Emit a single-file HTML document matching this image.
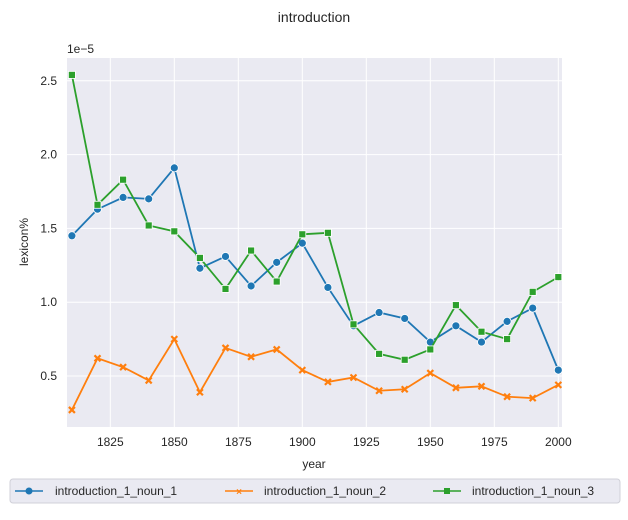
<!DOCTYPE html>
<html><head><meta charset="utf-8"><style>
body{margin:0;background:#fff;width:628px;height:515px;overflow:hidden}
text{font-family:"Liberation Sans",Arial,sans-serif;fill:#262626}
</style></head><body>
<svg id="chart" width="628" height="515" xmlns="http://www.w3.org/2000/svg">
<text x="314" y="22" text-anchor="middle" font-size="14">introduction</text>
<rect x="67" y="58" width="495" height="369" fill="#eaeaf2"/>
<g id="grid"></g><g id="series"></g>
<text x="67" y="53" font-size="12">1e−5</text>
<text x="314" y="468" text-anchor="middle" font-size="12">year</text>
<text transform="translate(28,242) rotate(-90)" text-anchor="middle" font-size="12">lexicon%</text>
<g>
<rect x="10" y="479" width="610" height="24" rx="3" fill="#eaeaf2" stroke="#d0d0d8"/>
<line x1="15" y1="491" x2="43" y2="491" stroke="#1f77b4" stroke-width="1.5"/><circle cx="29" cy="491" r="3.5" fill="#1f77b4"/>
<text x="55" y="495" font-size="12">introduction_1_noun_1</text>
<line x1="225" y1="491" x2="253" y2="491" stroke="#ff7f0e" stroke-width="1.5"/><text x="239" y="495" font-size="10" text-anchor="middle" style="fill:#ff7f0e;font-weight:bold">×</text>
<text x="264" y="495" font-size="12">introduction_1_noun_2</text>
<line x1="433" y1="491" x2="461" y2="491" stroke="#2ca02c" stroke-width="1.5"/><rect x="444" y="488" width="6" height="6" fill="#2ca02c"/>
<text x="472" y="495" font-size="12">introduction_1_noun_3</text>
</g>
</svg>
<script>
const years=[1810,1820,1830,1840,1850,1860,1870,1880,1890,1900,1910,1920,1930,1940,1950,1960,1970,1980,1990,2000];
const noun1=[1.45,1.63,1.71,1.70,1.91,1.23,1.31,1.11,1.27,1.40,1.10,0.84,0.93,0.89,0.73,0.84,0.73,0.87,0.96,0.54];
const noun2=[0.27,0.62,0.56,0.47,0.75,0.39,0.69,0.63,0.68,0.54,0.46,0.49,0.40,0.41,0.52,0.42,0.43,0.36,0.35,0.44];
const noun3=[2.54,1.66,1.83,1.52,1.48,1.30,1.09,1.35,1.14,1.46,1.47,0.85,0.65,0.61,0.68,0.98,0.80,0.75,1.07,1.17];
const xTicks=[1825,1850,1875,1900,1925,1950,1975,2000];
const yTicks=[0.5,1.0,1.5,2.0,2.5];
const NS="http://www.w3.org/2000/svg";
const X=v=>110.3+(v-1825)*2.56;
const Y=v=>376-(v-0.5)*147.6;
const grid=document.getElementById('grid'),ser=document.getElementById('series');
function mk(tag,attrs,parent){const e=document.createElementNS(NS,tag);for(const k in attrs)e.setAttribute(k,attrs[k]);parent.appendChild(e);return e;}
xTicks.forEach(t=>{
 const l=mk('line',{x1:X(t),x2:X(t),y1:58,y2:427,stroke:'#fff','stroke-width':1},grid);
 
 
 const tx=mk('text',{x:X(t),y:446,'text-anchor':'middle','font-size':12},grid);tx.textContent=t;
 
 
});
yTicks.forEach(t=>{
 const l=mk('line',{x1:67,x2:562,y1:Y(t),y2:Y(t),stroke:'#fff','stroke-width':1},grid);
 
 
 const tx=mk('text',{x:57,y:Y(t)+4,'text-anchor':'end','font-size':12},grid);tx.textContent=t.toFixed(1);
 
 
});
function series(vals,color,marker,name){
 const p=mk('polyline',{points:vals.map((v,i)=>X(years[i])+','+Y(v)).join(' '),fill:'none',stroke:color,'stroke-width':1.8},ser);
 
 
 vals.forEach((v,i)=>{
  const x=X(years[i]),y=Y(v);let m;
  if(marker==='o')m=mk('circle',{cx:x,cy:y,r:4,fill:color,stroke:'#fff','stroke-width':0.8},ser);
  else if(marker==='s')m=mk('rect',{x:x-3.5,y:y-3.5,width:7,height:7,fill:color,stroke:'#fff','stroke-width':0.8},ser);
  else m=mk('path',{d:`M${x-3},${y-3}L${x+3},${y+3}M${x-3},${y+3}L${x+3},${y-3}`,stroke:color,'stroke-width':2.2},ser);
  
  
 });
}
series(noun1,'#1f77b4','o','noun-1');
series(noun2,'#ff7f0e','x','noun-2');
series(noun3,'#2ca02c','s','noun-3');
</script>
</body></html>
